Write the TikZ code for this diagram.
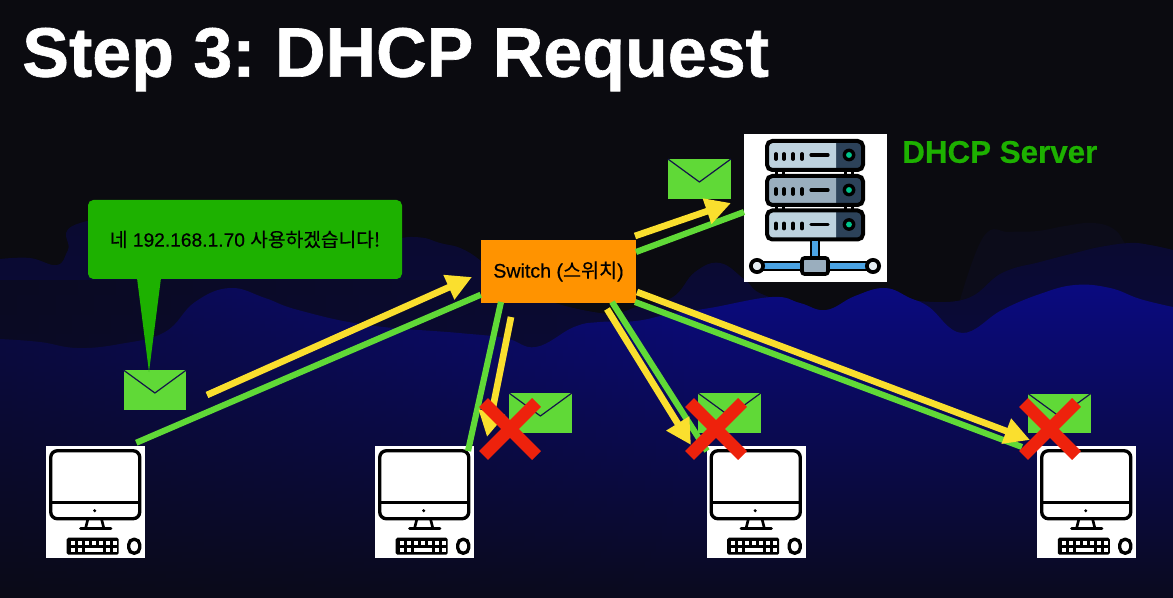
\documentclass[tikz,border=0pt]{standalone}
\usepackage{fontspec}
\setmainfont{Liberation Sans}
\newfontfamily\kr[FakeBold=.3]{Noto Sans CJK KR}
\newfontfamily\latn[FakeBold=.4]{Liberation Sans}
\newfontfamily\boldf[FakeBold=.9]{Liberation Sans Bold}
\newfontfamily\boldg[FakeBold=.6]{Liberation Sans Bold}
\frenchspacing
\usetikzlibrary{arrows.meta,fadings,calc}
\definecolor{bgc}{HTML}{0B0B10}
\definecolor{farc}{HTML}{0C0C1A}
\definecolor{dimt}{HTML}{0A0A30}
\definecolor{dimb}{HTML}{0A0A44}
\definecolor{brt}{HTML}{0A0A80}
\definecolor{brm}{HTML}{0A0A60}
\definecolor{brb}{HTML}{0A0A1E}
\definecolor{callg}{HTML}{1DB100}
\definecolor{envg}{HTML}{60D937}
\definecolor{yell}{HTML}{FADF2E}
\definecolor{org}{HTML}{FF9300}
\definecolor{xred}{HTML}{EE220C}
\definecolor{srvl}{HTML}{BDD2DE}
\definecolor{srvm}{HTML}{9AAEBE}
\definecolor{srvd}{HTML}{2C4259}
\definecolor{srvb}{HTML}{4BA3E3}
\definecolor{srvg}{HTML}{00C48C}
\definecolor{envl}{HTML}{14144A}
\tikzset{
  x=.75pt,y=-.75pt,
  whitebox/.style={fill=white,draw=none,inner sep=0pt,minimum width=74.25pt,minimum height=84pt},
  greenline/.style={envg,line width=4.6pt},
  yellarrow/.style={yell,line width=5pt,-{Triangle[length=19pt,width=19pt]}},
  redbar/.style={xred,line width=9.5pt},
  envbox/.style={fill=envg,draw=none,inner sep=0pt,minimum width=47pt,minimum height=29.6pt},
  pics/pcicon/.style={code={
    \draw[black,line width=2.5pt,rounded corners=5pt] (5,5) rectangle (94,73);
    \draw[black,line width=2.5pt] (5,57) -- (94,57);
    \fill[black] (49,65) circle (1.3pt);
    \draw[black,line width=2pt] (42,74) -- (40,82) (56,74) -- (58,82);
    \draw[black,line width=2.5pt,line cap=round] (35,83) -- (65,83);
    \fill[black,rounded corners=1.2pt] (21,92) rectangle (73,109);
    \foreach \kx in {25,32,39,46,53,60,67}{\fill[white] (\kx,95) rectangle ++(4,4);}
    \foreach \kx in {25,32,60,67}{\fill[white] (\kx,102) rectangle ++(4,4);}
    \fill[white] (39,102) rectangle (57,106);
    \draw[black,fill=white,line width=2.5pt,rounded corners=4pt] (83,93.5) rectangle (94,107.5);
  }},
  pics/envlines/.style={code={
    \draw[envl,line width=.9pt] (0,0) -- (31.5,23) -- (63,0);
  }},
  pics/unit/.style n args={1}{code={
    \fill[srvd,rounded corners=3pt] (0,0) rectangle (96,29);
    \fill[#1,rounded corners=1pt] (0,0) rectangle (69,29);
    \draw[black,line width=3pt,rounded corners=4pt] (0,0) rectangle (96,29);
    \foreach \dx in {9,17,26,35}{\draw[black,line width=2.8pt,line cap=round] (\dx,13) -- (\dx,18);}
    \draw[black,line width=2.4pt,line cap=round] (44,14) -- (61,14);
    \fill[black] (82,14) circle (4.8pt);
    \fill[srvg] (82,14) circle (2.2pt);
  }}
}
\begin{document}
\begin{tikzpicture}
\useasboundingbox (0,0) rectangle (1173,598);
\begin{scope}
\clip (0,0) rectangle (1173,598);
\fill[bgc] (0,0) rectangle (1173,598);
% far faint hills
\fill[farc] plot[smooth,tension=.7] coordinates {(960,300)(984,236)(1010,232)(1038,231)(1065,226)(1093,223)(1115,230)(1130,250)(1173,300)} -- cycle;
% dim hills
\shade[top color=dimt,bottom color=dimb] plot[smooth,tension=.7] coordinates {(0,259)(30,258)(57,265)(68,250)(80,223)(200,210)(350,240)(413,237)(440,243)(470,253)(520,290)(600,313)(640,306)(673,297)(695,272)(720,263)(745,280)(764,295)(819,310)(860,305)(892,300)(962,300)(1002,273)(1040,262)(1075,253)(1100,247)(1130,243)(1150,245)(1173,250)} -- (1173,598) -- (0,598) -- cycle;
% bright hills
\shade[top color=brt,middle color=brm,bottom color=brb] plot[smooth,tension=.7] coordinates {(0,339)(40,342)(77,348)(120,344)(165,332)(195,302)(230,288)(265,298)(298,310)(367,325)(459,333)(505,338)(536,347)(574,327)(600,322)(636,321)(670,314)(710,308)(772,297)(800,303)(826,310)(855,296)(885,288)(910,298)(929,307)(962,333)(1002,310)(1040,294)(1075,285)(1110,288)(1140,299)(1173,307)} -- (1173,598) -- (0,598) -- cycle;
% left side darker than right
\fill[bgc,opacity=.5,path fading=east] (0,280) rectangle (700,598);
\end{scope}

\node[anchor=west,text=white,font=\boldf\fontsize{52.5pt}{60pt}\selectfont,inner sep=0pt] (title) at (22,59.5) {Step 3: DHCP Request};

% machines
\node[whitebox] (pc1) at (95.5,502) {};
\node[whitebox] (pc2) at (424.5,502) {};
\node[whitebox] (pc3) at (756,502) {};
\node[whitebox] (pc4) at (1086.5,502) {};
\foreach \p in {pc1,pc2,pc3,pc4}{\pic at (\p.north west) {pcicon};}

% server
\node[fill=white,inner sep=0pt,minimum width=107.25pt,minimum height=111pt] (server) at (815.5,208) {};
\foreach \sx in {780,849}{\draw[black,line width=7pt] (\sx,168) -- (\sx,178) (\sx,203) -- (\sx,213); \draw[white,line width=3.2pt] (\sx,168) -- (\sx,178) (\sx,203) -- (\sx,213);}
\pic at (767,141) {unit={srvl}};
\pic at (767,176) {unit={srvm}};
\pic at (767,210.5) {unit={srvl}};
\draw[black,line width=8pt] (815,239) -- (815,262) (757,266) -- (873,266);
\draw[srvb,line width=3.8pt] (815,241) -- (815,262) (757,266) -- (873,266);
\draw[black,fill=srvm,line width=2.8pt,rounded corners=2pt] (802,258) rectangle (828,274);
\draw[black,fill=srvl!40!white,line width=2.8pt] (757,266) circle (4.6pt) (873,266) circle (4.6pt);
\node[anchor=west,text=callg,font=\boldg\fontsize{23.5pt}{28pt}\selectfont,inner sep=0pt] (srvlabel) at (902,152) {DHCP Server};

% envelopes
\node[envbox] (e1) at (155,390) {};
\node[envbox] (e2) at (699.5,179) {};
\node[envbox] (e3) at (540.5,413) {};
\node[envbox] (e4) at (729.5,413) {};
\node[envbox] (e5) at (1059.5,413.5) {};
\foreach \e in {e1,e2,e3,e4,e5}{\pic at (\e.north west) {envlines};}

% callout
\fill[callg] (137,278) -- (161,278) -- (149,372) -- cycle;
\node[fill=callg,rounded corners=4pt,inner sep=0pt,minimum width=235.5pt,minimum height=59.25pt,font=\latn\fontsize{14.4pt}{17pt}\selectfont,text=black] (callout) at (245,239.5) {{\kr 네} 192.168.1.70 {\kr 사용하겠습니다!}};

% switch
\node[fill=org,inner sep=0pt,minimum width=116.25pt,minimum height=47.25pt,font=\latn\fontsize{14.7pt}{17pt}\selectfont,text=black] (sw) at (558.5,271.5) {Switch ({\kr 스위치})};

% anchor points of connectors
\coordinate (ga1) at ($(pc1.north east)+(-9,-3)$);
\coordinate (gb1) at ($(sw.north west)+(0,55)$);
\coordinate (ta1) at (207,395);
\coordinate (hb1) at (472,277);
\coordinate (ga2) at (501,302);
\coordinate (gb2) at (468,451);
\coordinate (ta2) at (511,317);
\coordinate (hb2) at (487,437);
\coordinate (ga3) at (612,302);
\coordinate (gb3) at (707,451);
\coordinate (ta3) at (607,309);
\coordinate (hb3) at (691,445);
\coordinate (ga4) at (635,302);
\coordinate (gb4) at (1022,447);
\coordinate (ta4) at (637,292);
\coordinate (hb4) at (1030,440);
\coordinate (ga5) at (636,252);
\coordinate (gb5) at (744,212);
\coordinate (ta5) at (635,236);
\coordinate (hb5) at (731,203);

\draw[greenline] (ga1) -- (gb1);
\draw[greenline] (ga2) -- (gb2);
\draw[greenline] (ga3) -- (gb3);
\draw[greenline] (ga4) -- (gb4);
\draw[greenline] (ga5) -- (gb5);
\draw[yellarrow] (ta1) -- (hb1);
\draw[yellarrow] (ta2) -- (hb2);
\draw[yellarrow] (ta3) -- (hb3);
\draw[yellarrow] (ta4) -- (hb4);
\draw[yellarrow] (ta5) -- (hb5);

% crosses
\foreach \cx in {510,716,1050}{
  \draw[redbar] (\cx-26.5,429-26.5) -- (\cx+26.5,429+26.5);
  \draw[redbar] (\cx+26.5,429-26.5) -- (\cx-26.5,429+26.5);
}
\end{tikzpicture}
\end{document}
